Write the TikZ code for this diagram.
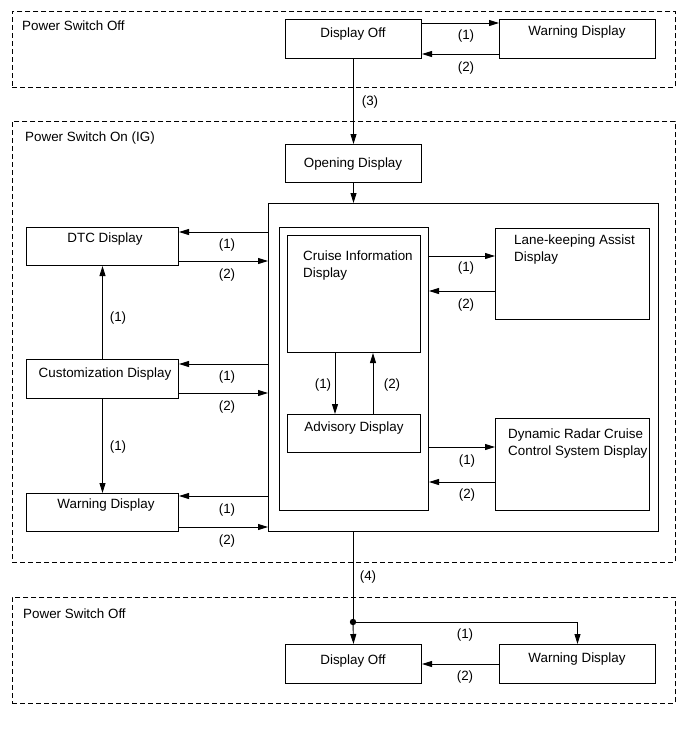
\documentclass[tikz,border=0pt]{standalone}
\usepackage{fontspec}
\setmainfont{Liberation Sans}
\usetikzlibrary{arrows.meta}
\begin{document}
\begin{tikzpicture}[x=1pt,y=-1pt,
  font=\fontsize{13.4}{17}\selectfont,
  zone/.style={draw, dash pattern=on 5pt off 3pt, line width=0.9pt, inner sep=0, anchor=north west},
  box/.style={draw, line width=1pt, inner sep=0, anchor=north west},
  txt/.style={anchor=base, inner sep=0},
  ltxt/.style={anchor=base west, inner sep=0},
  lab/.style={anchor=base, inner sep=0},
  arr/.style={line width=0.9pt, -{Triangle[length=10pt,width=6pt]}},
  ln/.style={line width=0.9pt}]
\useasboundingbox (0,0) rectangle (690,756);

% zones
\node[zone, minimum width=663, minimum height=76] (z1) at (12,11) {};
\node[zone, minimum width=663, minimum height=441] (z2) at (12,121) {};
\node[zone, minimum width=663, minimum height=106] (z3) at (12,597) {};
\node[ltxt] (z1t) at (22,30) {Power Switch Off};
\node[ltxt] (z2t) at (25,141) {Power Switch On (IG)};
\node[ltxt] (z3t) at (23,618) {Power Switch Off};

% boxes
\node[box, minimum width=136, minimum height=39] (do1) at (285,19) {};
\node[box, minimum width=156, minimum height=39] (wd1) at (499,19) {};
\node[box, minimum width=136, minimum height=38] (op) at (285,144) {};
\node[box, minimum width=390, minimum height=328] (big) at (268,203) {};
\node[box, minimum width=149, minimum height=283] (grp) at (279,227) {};
\node[box, minimum width=133, minimum height=117] (cru) at (287,235) {};
\node[box, minimum width=133, minimum height=38] (adv) at (287,414) {};
\node[box, minimum width=154, minimum height=91] (lka) at (495,228) {};
\node[box, minimum width=154, minimum height=92] (drc) at (495,418) {};
\node[box, minimum width=152, minimum height=38] (dtc) at (26,227) {};
\node[box, minimum width=152, minimum height=39] (cus) at (26,359) {};
\node[box, minimum width=152, minimum height=38] (wl) at (26,493) {};
\node[box, minimum width=136, minimum height=39] (do2) at (285,644) {};
\node[box, minimum width=156, minimum height=39] (wd2) at (499,644) {};

% box texts
\node[txt] (do1t) at (353,37) {Display Off};
\node[txt] (wd1t) at (577,35) {Warning Display};
\node[txt] (opt) at (353,167) {Opening Display};
\node[ltxt] (crut1) at (303,260) {Cruise Information};
\node[ltxt] (crut2) at (303,277) {Display};
\node[txt] (advt) at (354,431) {Advisory Display};
\node[ltxt] (lkat1) at (514,244) {Lane-keeping Assist};
\node[ltxt] (lkat2) at (514,261) {Display};
\node[ltxt] (drct1) at (508,438) {Dynamic Radar Cruise};
\node[ltxt] (drct2) at (508,455) {Control System Display};
\node[txt] (dtct) at (105,242) {DTC Display};
\node[txt] (cust) at (105,377) {Customization Display};
\node[txt] (wlt) at (106,508) {Warning Display};
\node[txt] (do2t) at (353,664) {Display Off};
\node[txt] (wd2t) at (577,662) {Warning Display};

% top zone
\draw[arr] (do1.east |- 0,23) -- (wd1.west |- 0,23);
\draw[arr] (wd1.west |- 0,54) -- (do1.east |- 0,54);
\node[lab] (l1a) at (466,39) {(1)};
\node[lab] (l2a) at (466,71) {(2)};

% (3)
\draw[arr] (do1.south) -- (op.north);
\node[lab] (l3) at (370,105) {(3)};
\draw[arr] (op.south) -- (op.south |- big.north);

% left side
\draw[arr] (big.west |- 0,232) -- (dtc.east |- 0,232);
\draw[arr] (dtc.east |- 0,261) -- (big.west |- 0,261);
\node[lab] (l1b) at (227,248) {(1)};
\node[lab] (l2b) at (227,278) {(2)};
\draw[arr] (big.west |- 0,364) -- (cus.east |- 0,364);
\draw[arr] (cus.east |- 0,393) -- (big.west |- 0,393);
\node[lab] (l1c) at (227,380) {(1)};
\node[lab] (l2c) at (227,410) {(2)};
\draw[arr] (big.west |- 0,496) -- (wl.east |- 0,496);
\draw[arr] (wl.east |- 0,527) -- (big.west |- 0,527);
\node[lab] (l1d) at (227,513) {(1)};
\node[lab] (l2d) at (227,544) {(2)};
\draw[arr] (cus.north) -- (dtc.south);
\node[lab] (l1e) at (118,321) {(1)};
\draw[arr] (cus.south) -- (wl.north);
\node[lab] (l1f) at (118,450) {(1)};

% inner
\draw[arr] (cru.south -| 335,0) -- (adv.north -| 335,0);
\draw[arr] (adv.north -| 373,0) -- (cru.south -| 373,0);
\node[lab] (l1g) at (323,388) {(1)};
\node[lab] (l2g) at (392,388) {(2)};
\draw[arr] (grp.east |- 0,256) -- (lka.west |- 0,256);
\draw[arr] (lka.west |- 0,291) -- (grp.east |- 0,291);
\node[lab] (l1h) at (466,271) {(1)};
\node[lab] (l2h) at (466,308) {(2)};
\draw[arr] (grp.east |- 0,447) -- (drc.west |- 0,447);
\draw[arr] (drc.west |- 0,482) -- (grp.east |- 0,482);
\node[lab] (l1i) at (467,464) {(1)};
\node[lab] (l2i) at (467,498) {(2)};

% (4) and bottom
\coordinate (j) at (353,622);
\draw[ln] (big.south -| j) -- (j);
\node[lab] (l4) at (368,580) {(4)};
\draw[arr] (j) -- (do2.north);
\draw[arr] (j) -| (wd2.north);
\fill (j) circle (3.2);
\node[lab] (l1j) at (465,638) {(1)};
\draw[arr] (wd2.west |- 0,664) -- (do2.east |- 0,664);
\node[lab] (l2j) at (465,680) {(2)};
\end{tikzpicture}
\end{document}
